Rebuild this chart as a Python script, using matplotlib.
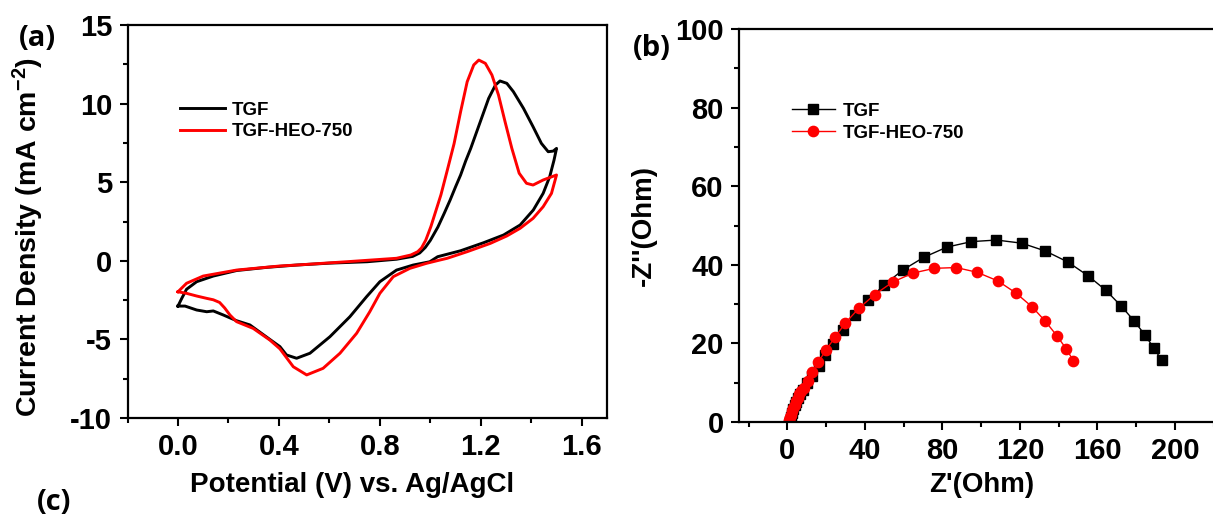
import matplotlib
matplotlib.use("Agg")
import matplotlib.pyplot as plt
from matplotlib.ticker import MultipleLocator

plt.rcParams['font.family'] = ['Liberation Sans', 'DejaVu Sans']
plt.rcParams['font.weight'] = 'bold'
plt.rcParams['mathtext.fontset'] = 'custom'
plt.rcParams['mathtext.rm'] = 'Liberation Sans:bold'
plt.rcParams['mathtext.bf'] = 'Liberation Sans:bold'
plt.rcParams['mathtext.default'] = 'rm'

# ---------------- Panel (a): CV data (potential V, current density mA cm^-2) ----------------
tgf_fwd_v = [0.0, 0.015, 0.034, 0.074, 0.14, 0.232, 0.35, 0.47, 0.6, 0.75, 0.866, 0.93, 0.958,
             0.98, 1.0, 1.03, 1.055, 1.078, 1.1, 1.12, 1.14, 1.16, 1.198, 1.231, 1.258,
             1.276, 1.303, 1.329, 1.369, 1.407, 1.44, 1.467, 1.487, 1.5]
tgf_fwd_i = [-2.88, -2.39, -1.81, -1.33, -0.97, -0.62, -0.42, -0.27, -0.15, -0.06, 0.1, 0.28, 0.5,
             0.85, 1.3, 2.15, 3.02, 3.85, 4.71, 5.46, 6.35, 7.15, 8.85, 10.33, 11.18,
             11.44, 11.29, 10.76, 9.7, 8.53, 7.47, 6.94, 6.98, 7.15]
tgf_rev_v = [1.5, 1.49, 1.473, 1.447, 1.408, 1.356, 1.29, 1.211, 1.12, 1.029, 0.998, 0.932,
             0.866, 0.8, 0.747, 0.681, 0.602, 0.523, 0.47, 0.43, 0.404, 0.364, 0.285, 0.232,
             0.18, 0.14, 0.114, 0.074, 0.028, 0.0]
tgf_rev_i = [7.15, 6.4, 5.35, 4.29, 3.23, 2.28, 1.64, 1.15, 0.64, 0.26, -0.06, -0.27,
             -0.59, -1.33, -2.29, -3.56, -4.83, -5.88, -6.2, -5.99, -5.46, -5.0, -4.08, -3.81,
             -3.45, -3.19, -3.24, -3.13, -2.88, -2.88]
heo_fwd_v = [0.0, 0.034, 0.1, 0.232, 0.404, 0.47, 0.668, 0.866, 0.923, 0.95, 0.965, 0.982,
             1.002, 1.042, 1.067, 1.094, 1.12, 1.146, 1.172, 1.192, 1.218, 1.244, 1.27, 1.296,
             1.323, 1.352, 1.381, 1.407, 1.447, 1.5]
heo_fwd_i = [-1.97, -1.43, -0.97, -0.59, -0.33, -0.27, -0.06, 0.16, 0.37, 0.58, 0.82, 1.32,
             2.17, 4.2, 5.75, 7.45, 9.49, 11.39, 12.46, 12.77, 12.56, 11.82, 10.55, 8.85,
             7.15, 5.57, 4.93, 4.82, 5.14, 5.46]
heo_rev_v = [1.5, 1.48, 1.447, 1.407, 1.356, 1.303, 1.238, 1.146, 1.067, 1.038, 0.985, 0.919,
             0.853, 0.8, 0.76, 0.708, 0.642, 0.575, 0.51, 0.457, 0.404, 0.364, 0.298, 0.232,
             0.206, 0.185, 0.165, 0.14, 0.114, 0.074, 0.034, 0.0]
heo_rev_i = [5.46, 4.29, 3.44, 2.7, 2.07, 1.58, 1.11, 0.58, 0.16, 0.05, -0.16, -0.48,
             -1.01, -2.07, -3.24, -4.61, -5.88, -6.84, -7.26, -6.74, -5.6, -5.04, -4.3, -3.87,
             -3.45, -3.0, -2.65, -2.48, -2.39, -2.24, -2.07, -1.97]

# ---------------- Panel (b): Nyquist data (Z' and -Z'' in Ohm) ----------------
tgf_zre = [1.3, 1.8, 2.4, 3.0, 3.7, 4.5, 5.5, 6.6, 7.9, 10.1, 12.7, 16.3, 19.6, 23.5, 28.5,
           34.7, 41.6, 50.0, 59.6, 70.4, 82.3, 95.0, 107.9, 121.0, 133.2, 144.8, 155.2, 164.4,
           172.3, 179.0, 184.7, 189.2, 193.1]
tgf_zim = [0.2, 1.2, 2.2, 3.2, 4.2, 5.2, 6.2, 7.2, 8.2, 10.0, 11.8, 14.2, 17.0, 19.8, 23.4,
           27.2, 31.0, 34.9, 38.7, 41.9, 44.5, 45.9, 46.3, 45.5, 43.5, 40.7, 37.2, 33.5,
           29.5, 25.7, 22.05, 18.74, 15.8]
heo_zre = [0.6, 1.0, 1.4, 1.9, 2.5, 3.1, 3.8, 4.5, 5.3, 6.2, 7.2, 8.4, 10.5, 12.9, 15.8, 19.9,
           24.6, 29.9, 36.8, 45.0, 54.3, 64.8, 75.8, 87.1, 97.9, 108.6, 118.0, 126.3, 133.2,
           139.0, 143.8, 147.6]
heo_zim = [0.2, 0.6, 1.2, 1.9, 2.7, 3.5, 4.4, 5.3, 6.2, 7.1, 7.9, 8.7, 10.4, 12.7, 15.2, 18.3,
           21.6, 25.2, 28.9, 32.4, 35.6, 37.9, 39.1, 39.3, 38.1, 35.9, 32.8, 29.3, 25.6,
           22.0, 18.7, 15.6]

labels = ['TGF', 'TGF-HEO-750']

W, H = 1213, 520
fig = plt.figure(figsize=(W / 100, H / 100), dpi=100)

def px_axes(l, t, r, b):
    return fig.add_axes([l / W, 1 - b / H, (r - l) / W, (b - t) / H])

def style(ax):
    for s in ax.spines.values():
        s.set_linewidth(1.6)
    ax.tick_params(which='both', direction='out', top=False, right=False, width=1.5,
                   labelsize=21)
    ax.tick_params(which='major', length=6, pad=5)
    ax.tick_params(which='minor', length=3.5)
    for lab in ax.get_xticklabels() + ax.get_yticklabels():
        lab.set_fontweight('bold')

# Panel (a)
ax1 = px_axes(127.5, 25, 607, 418)
ax1.plot(tgf_fwd_v + tgf_rev_v, tgf_fwd_i + tgf_rev_i, color='black', lw=2.1,
         solid_joinstyle='round', label=labels[0])
ax1.plot(heo_fwd_v + heo_rev_v, heo_fwd_i + heo_rev_i, color='#ff0000', lw=2.1,
         solid_joinstyle='round', label=labels[1])
ax1.set_xlim(-0.2, 1.7)
ax1.set_ylim(-10, 15)
ax1.xaxis.set_minor_locator(MultipleLocator(0.2))
ax1.yaxis.set_minor_locator(MultipleLocator(2.5))
ax1.set_xticks([0.0, 0.4, 0.8, 1.2, 1.6])
ax1.set_xticklabels(['0.0', '0.4', '0.8', '1.2', '1.6'])
ax1.set_yticks([-10, -5, 0, 5, 10, 15])
ax1.set_yticklabels(['-10', '-5', '0', '5', '10', '15'])
style(ax1)
ax1.set_xlabel('Potential (V) vs. Ag/AgCl', fontsize=20, fontweight='bold')
ax1.set_ylabel('Current Density (mA cm$^{-2}$)', fontsize=20.5, fontweight='bold')
ax1.xaxis.set_label_coords(0.468, -0.137)
ax1.yaxis.set_label_coords(-0.17, 0.46)
ax1.legend(loc='center left', bbox_to_anchor=(0.109, 0.756), frameon=False,
           prop={'size': 13.5, 'weight': 'bold'}, borderpad=0, handlelength=2.4,
           handletextpad=0.35, labelspacing=0.25, borderaxespad=0)

# Panel (b)
ax2 = px_axes(739, 29, 1233, 422)
ax2.plot(tgf_zre, tgf_zim, color='black', lw=1.0, marker='s', markersize=6.5, label=labels[0])
ax2.plot(heo_zre, heo_zim, color='#ff0000', lw=1.0, marker='o', markersize=7.4, label=labels[1])
ax2.set_xlim(-25, 230)
ax2.set_ylim(0, 100)
ax2.set_xticks([0, 40, 80, 120, 160, 200])
ax2.xaxis.set_minor_locator(MultipleLocator(20))
ax2.set_yticks([0, 20, 40, 60, 80, 100])
ax2.yaxis.set_minor_locator(MultipleLocator(10))
style(ax2)
ax2.set_xlabel("Z'(Ohm)", fontsize=20, fontweight='bold')
ax2.set_ylabel("-Z''(Ohm)", fontsize=20, fontweight='bold')
ax2.xaxis.set_label_coords(0.492, -0.127)
ax2.yaxis.set_label_coords(-0.166, 0.499)
ax2.legend(loc='center left', bbox_to_anchor=(0.107, 0.763), frameon=False,
           prop={'size': 13.5, 'weight': 'bold'}, borderpad=0, handlelength=2.3,
           handletextpad=0.4, labelspacing=0.25, borderaxespad=0)

# Panel letters
for txt, x, y in [('(a)', 37, 38), ('(b)', 652, 48), ('(c)', 54, 502)]:
    fig.text(x / W, 1 - y / H, txt, fontsize=21, fontweight='bold',
             family=['Open Sans', 'Liberation Sans'], ha='center', va='center')

fig.savefig('out.png', dpi=100)
